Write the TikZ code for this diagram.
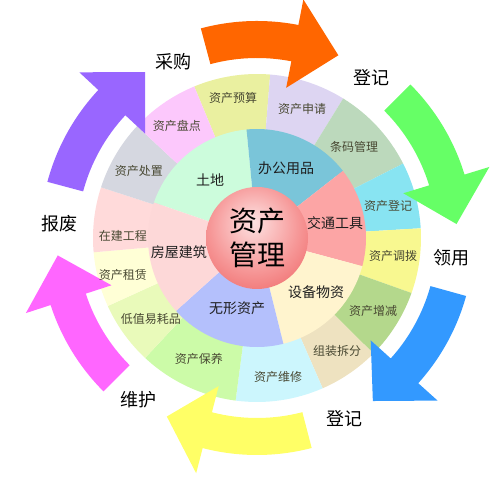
\documentclass[tikz,border=0pt]{standalone}
\usepackage{fontspec}
\newfontfamily\cjk{Noto Sans CJK SC}
\definecolor{outtxt}{RGB}{72,72,50}
\definecolor{intxt}{RGB}{30,30,30}
\definecolor{ballin}{RGB}{253,226,226}
\definecolor{ballmid}{RGB}{246,150,150}
\definecolor{ballout}{RGB}{232,62,62}
% outer ring colours
\definecolor{cYusuan}{RGB}{234,240,160}
\definecolor{cShenqing}{RGB}{221,213,242}
\definecolor{cTiaoma}{RGB}{188,217,188}
\definecolor{cDengji}{RGB}{136,228,242}
\definecolor{cDiaobo}{RGB}{248,248,144}
\definecolor{cZengjian}{RGB}{180,216,140}
\definecolor{cZuzhuang}{RGB}{238,226,192}
\definecolor{cWeixiu}{RGB}{204,246,253}
\definecolor{cBaoyang}{RGB}{204,251,168}
\definecolor{cDizhi}{RGB}{233,250,186}
\definecolor{cZulin}{RGB}{255,255,214}
\definecolor{cZaijian}{RGB}{255,218,218}
\definecolor{cChuzhi}{RGB}{213,215,224}
\definecolor{cPandian}{RGB}{252,200,252}
% inner ring colours
\definecolor{cTudi}{RGB}{204,252,220}
\definecolor{cBangong}{RGB}{122,197,217}
\definecolor{cJiaotong}{RGB}{252,165,165}
\definecolor{cShebei}{RGB}{255,244,206}
\definecolor{cWuxing}{RGB}{180,192,252}
\definecolor{cFangwu}{RGB}{253,216,216}
% arrows
\definecolor{aOrange}{RGB}{255,102,0}
\definecolor{aGreen}{RGB}{102,255,102}
\definecolor{aBlue}{RGB}{51,153,255}
\definecolor{aYellow}{RGB}{255,255,102}
\definecolor{aMagenta}{RGB}{255,102,255}
\definecolor{aPurple}{RGB}{153,102,255}
\pgfdeclareradialshading{ctrball}{\pgfpoint{-2bp}{8bp}}{color(0bp)=(ballin); color(22bp)=(ballmid); color(50bp)=(ballout); color(70bp)=(ballout)}
% annular sector: colour, start angle, end angle, inner radius, outer radius
\newcommand\ringsector[5]{\fill[#1] (#2:#4) arc[start angle=#2,end angle=#3,radius=#4] -- (#3:#5) arc[start angle=#3,end angle=#2,radius=#5] -- cycle;}
% curved arrow: colour, tail angle, head base angle, tip angle
\newcommand\cyclearrow[4]{\fill[#1] (#2:217pt) arc[start angle=#2,end angle=#3,radius=217pt] -- (#3:243pt) -- (#4:200pt) -- (#3:153pt) -- (#3:180pt) arc[start angle=#3,end angle=#2,radius=180pt] -- cycle;}
\begin{document}
\begin{tikzpicture}[x=1pt,y=1pt,
  outerlbl/.style={font=\cjk\fontsize{12}{12}\selectfont, text=outtxt, inner sep=0pt},
  innerlbl/.style={font=\cjk\fontsize{14}{14}\selectfont, text=intxt, inner sep=0pt},
  phaselbl/.style={font=\cjk\fontsize{18}{18}\selectfont, text=black, inner sep=0pt},
  centerlbl/.style={font=\cjk\fontsize{28}{34}\selectfont, text=black, align=center, inner sep=0pt}]
\useasboundingbox (-257,-240) rectangle (243,238);
% outer ring
\ringsector{cYusuan}{112.5}{85.4}{100pt}{164pt}
\ringsector{cShenqing}{85.4}{58.3}{100pt}{164pt}
\ringsector{cTiaoma}{58.3}{27}{100pt}{164pt}
\ringsector{cDengji}{27}{3.4}{100pt}{164pt}
\ringsector{cDiaobo}{3.4}{-19.6}{100pt}{164pt}
\ringsector{cZengjian}{-19.6}{-44.8}{100pt}{164pt}
\ringsector{cZuzhuang}{-44.8}{-66.4}{100pt}{164pt}
\ringsector{cWeixiu}{-66.4}{-97.5}{100pt}{164pt}
\ringsector{cBaoyang}{-97.5}{-133}{100pt}{164pt}
\ringsector{cDizhi}{-133}{-155.5}{100pt}{164pt}
\ringsector{cZulin}{-155.5}{-175}{100pt}{164pt}
\ringsector{cZaijian}{-175}{-198}{100pt}{164pt}
\ringsector{cChuzhi}{162}{137}{100pt}{164pt}
\ringsector{cPandian}{137}{112.5}{100pt}{164pt}
% inner ring
\ringsector{cTudi}{161}{95.5}{40pt}{109pt}
\ringsector{cBangong}{95.5}{38}{40pt}{109pt}
\ringsector{cJiaotong}{38}{-15}{40pt}{109pt}
\ringsector{cShebei}{-15}{-76}{40pt}{109pt}
\ringsector{cWuxing}{-76}{-138}{40pt}{109pt}
\ringsector{cFangwu}{-138}{-199}{40pt}{109pt}
% centre ball
\node[circle, minimum size=102pt, inner sep=0pt, shading=ctrball] (ball) at (0,0) {};
% arrows
\cyclearrow{aOrange}{105}{79}{66}
\cyclearrow{aGreen}{45}{17}{4}
\cyclearrow{aBlue}{-15.5}{-42}{-54.6}
\cyclearrow{aYellow}{-75.4}{-104.5}{-116.8}
\cyclearrow{aMagenta}{-135}{-162}{-175}
\cyclearrow{aPurple}{165}{137}{124}
% centre text
\node[centerlbl] (title) at (0,0) {资产\\管理};
% inner labels
\node[innerlbl] (tudi) at (-47,58) {土地};
\node[innerlbl] (bangong) at (29,70) {办公用品};
\node[innerlbl] (jiaotong) at (78,15) {交通工具};
\node[innerlbl] (shebei) at (59,-54) {设备物资};
\node[innerlbl] (wuxing) at (-20,-70) {无形资产};
\node[innerlbl] (fangwu) at (-78,-14) {房屋建筑};
% outer labels
\node[outerlbl] (yusuan) at (-24,140) {资产预算};
\node[outerlbl] (shenqing) at (45,129) {资产申请};
\node[outerlbl] (tiaoma) at (97,91) {条码管理};
\node[outerlbl] (dengji1) at (131,32) {资产登记};
\node[outerlbl] (diaobo) at (136,-18) {资产调拨};
\node[outerlbl] (zengjian) at (116,-73) {资产增减};
\node[outerlbl] (zuzhuang) at (80,-113) {组装拆分};
\node[outerlbl] (weixiu) at (21,-139) {资产维修};
\node[outerlbl] (baoyang) at (-58,-121) {资产保养};
\node[outerlbl] (dizhi) at (-106,-81) {低值易耗品};
\node[outerlbl] (zulin) at (-134,-37) {资产租赁};
\node[outerlbl] (zaijian) at (-134,2) {在建工程};
\node[outerlbl] (chuzhi) at (-118,67) {资产处置};
\node[outerlbl] (pandian) at (-80,112) {资产盘点};
% phase labels
\node[phaselbl] (caigou) at (-83,176) {采购};
\node[phaselbl] (dengjiA) at (114,160) {登记};
\node[phaselbl] (lingyong) at (194,-20) {领用};
\node[phaselbl] (dengjiB) at (87,-181) {登记};
\node[phaselbl] (weihu) at (-118,-162) {维护};
\node[phaselbl] (baofei) at (-197,14) {报废};
\end{tikzpicture}
\end{document}
